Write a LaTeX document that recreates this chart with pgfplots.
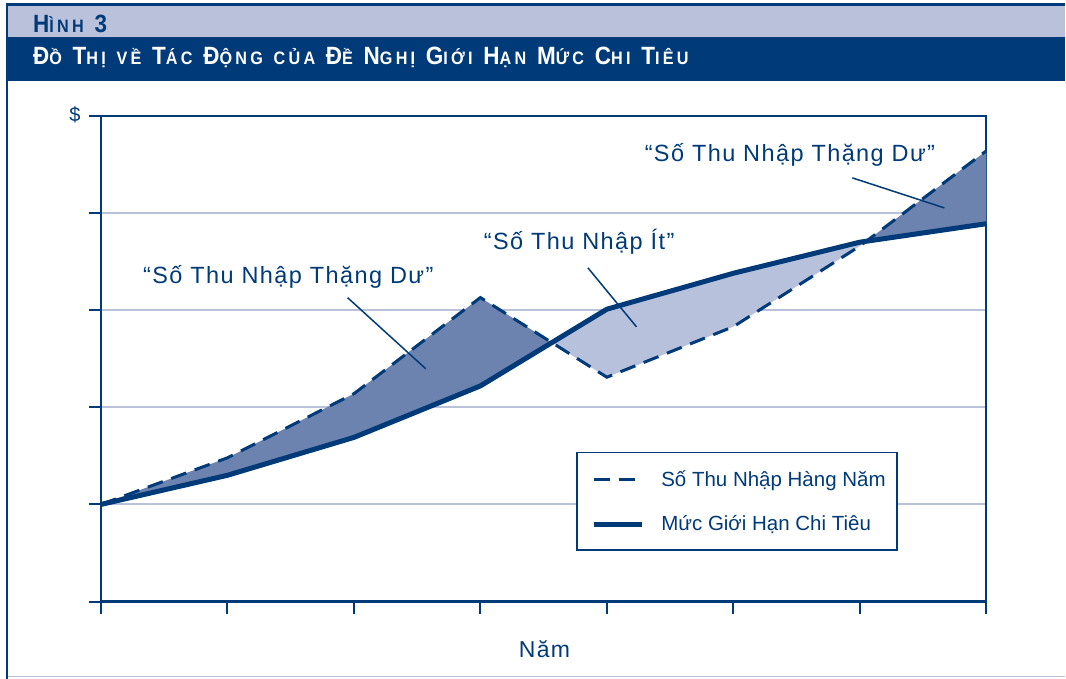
\documentclass[border=0pt]{standalone}
\usepackage{fontspec}
\setmainfont{Liberation Sans}
\newfontfamily\annfont{Liberation Sans}[LetterSpace=6]
\newfontfamily\titlefont{Liberation Sans}[FakeStretch=0.9, LetterSpace=18]
\usepackage{pgfplots}
\pgfplotsset{compat=1.18}
\usepackage{pgfplotstable}
\usepgfplotslibrary{fillbetween}
\definecolor{dkblue}{HTML}{003A78}
\definecolor{band}{HTML}{B9C1DB}
\definecolor{fdark}{HTML}{6C83AF}
\definecolor{flight}{HTML}{B8C1DB}
\definecolor{gridc}{HTML}{BAC2DA}

\pgfplotstableread{
x inc lim
0 1.00 1.00
1 1.48 1.30
2 2.14 1.69
3 3.13 2.22
4 2.31 3.01
5 2.83 3.38
6 3.66 3.70
7 4.64 3.89
}\chartdata

\newcommand{\smallcap}[1]{{\fontsize{18}{21}\selectfont #1}}

\begin{document}
\begin{tikzpicture}
\path (0pt,0pt) rectangle (1066pt,679pt);
\fill[band] (8pt,673pt) rectangle (1066pt,642pt);
\fill[dkblue] (6pt,673pt) rectangle (1066pt,675.5pt);
\fill[dkblue] (6pt,641.5pt) rectangle (1066pt,598pt);
\fill[dkblue] (6pt,0pt) rectangle (8.5pt,675.5pt);
\draw[band, line width=1.5pt] (8.5pt,2pt) -- (1066pt,2pt);
\node[anchor=base west, inner sep=0pt, text=dkblue, font=\titlefont\bfseries\fontsize{25}{28}\selectfont] at (33pt,646pt) {H\smallcap{ÌNH} 3};
\node[anchor=base west, inner sep=0pt, text=white, font=\titlefont\bfseries\fontsize{25}{28}\selectfont] at (33pt,614pt) {Đ\smallcap{Ồ} T\smallcap{HỊ} \smallcap{VỀ} T\smallcap{ÁC} Đ\smallcap{ỘNG} \smallcap{CỦA} Đ\smallcap{Ề} N\smallcap{GHỊ} G\smallcap{IỚI} H\smallcap{ẠN} M\smallcap{ỨC} C\smallcap{HI} T\smallcap{IÊU}};
\node[text=dkblue, font=\fontsize{20}{24}\selectfont] at (75pt,564pt) {\$};
\node[anchor=base west, inner sep=0pt, text=dkblue, font=\annfont\fontsize{23}{28}\selectfont] at (519pt,21pt) {Năm};

\begin{axis}[
  at={(101pt,77pt)}, anchor=south west, scale only axis,
  width=886pt, height=486pt,
  xmin=0, xmax=7, ymin=0, ymax=5,
  xtick={0,...,7}, ytick={0,...,5}, xticklabels={}, yticklabels={},
  tick align=outside, major tick length=12pt, tick pos=left,
  tick style={dkblue, line width=2pt},
  axis line style={dkblue, line width=2.2pt},
  ymajorgrids, grid style={gridc, line width=2pt},
  legend style={at={(0.537,0.309)}, anchor=north west,
    draw=dkblue, line width=2pt, fill=white,
    font=\fontsize{20.5}{24}\selectfont, text=dkblue,
    inner xsep=9pt, inner ysep=16pt, row sep=24pt},
  legend cell align=left,
  legend image code/.code={\path[draw=none] (0pt,0pt) -- (73pt,0pt); \draw[#1] (8pt,0pt) -- (56pt,0pt);},
]
\addplot[draw=none, name path=inc, forget plot] table[x=x,y=inc]{\chartdata};
\addplot[draw=none, name path=lim, forget plot] table[x=x,y=lim]{\chartdata};
\addplot[fdark, forget plot] fill between[of=inc and lim, soft clip={domain=0:3.565}];
\addplot[flight, forget plot] fill between[of=inc and lim, soft clip={domain=3.565:6.05}];
\addplot[fdark, forget plot] fill between[of=inc and lim, soft clip={domain=6.05:7}];
\addplot[dkblue, line width=3pt, dash pattern=on 16pt off 9pt] table[x=x,y=inc]{\chartdata};
\addlegendentry{Số Thu Nhập Hàng Năm}
\addplot[dkblue, line width=5pt] table[x=x,y=lim]{\chartdata};
\addlegendentry{Mức Giới Hạn Chi Tiêu}

\node[anchor=base west, inner sep=0pt, text=dkblue, font=\annfont\fontsize{23.5}{28}\selectfont] at (axis cs:0.332,3.272) {“Số Thu Nhập Thặng Dư”};
\draw[dkblue, line width=1.5pt] (axis cs:1.951,3.128) -- (axis cs:2.568,2.397);
\node[anchor=base west, inner sep=0pt, text=dkblue, font=\annfont\fontsize{23.5}{28}\selectfont] at (axis cs:3.026,3.621) {“Số Thu Nhập Ít”};
\draw[dkblue, line width=1.5pt] (axis cs:3.850,3.436) -- (axis cs:4.234,2.829);
\node[anchor=base west, inner sep=0pt, text=dkblue, font=\annfont\fontsize{23.5}{28}\selectfont] at (axis cs:4.298,4.527) {“Số Thu Nhập Thặng Dư”};
\draw[dkblue, line width=1.5pt] (axis cs:5.941,4.362) -- (axis cs:6.668,4.053);
\end{axis}
\end{tikzpicture}
\end{document}
